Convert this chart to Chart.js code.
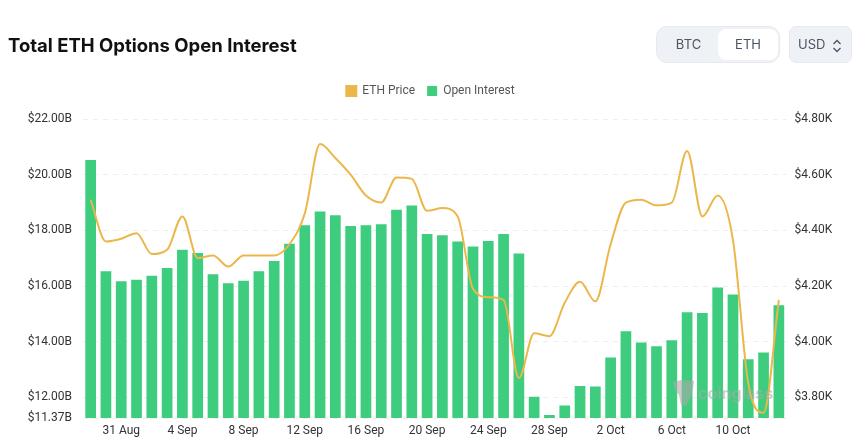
<!DOCTYPE html>
<html>
<head>
<meta charset="utf-8">
<script src="https://cdn.jsdelivr.net/npm/chart.js@4"></script>
<style>
  body { margin: 0; background: #fff; font-family: Inter, sans-serif; }
  #wrap { position: relative; width: 861px; height: 440px; overflow: hidden; }
  canvas { position: absolute; left: 0; top: 0; }
  h1 { position: absolute; left: 8px; top: 33px; margin: 0; font-size: 18.5px; line-height: 24px; font-weight: 700; color: #111; white-space: nowrap; }
  .group { position: absolute; left: 656px; top: 26px; width: 124px; height: 37px; box-sizing: border-box; background: #eef1f5; border: 1px solid #e6e9ee; border-radius: 11px; }
  .btn { position: absolute; top: 2px; height: 31px; line-height: 31px; text-align: center; font-size: 13px; color: #4b5563; border-radius: 8px; }
  .btn.on { background: #fff; }
  .select { position: absolute; left: 789px; top: 26px; width: 63px; height: 37px; box-sizing: border-box; background: #eef1f5; border: 1px solid #e6e9ee; border-radius: 7px; font-size: 13px; line-height: 35px; color: #4b5563; padding-left: 8px; }
  .select svg { position: absolute; left: 41px; top: 11px; }
  .mark { position: absolute; left: 698px; top: 382px; font-size: 16px; line-height: 22px; font-weight: 700; color: rgba(170, 170, 170, 0.55); }
  .logo { position: absolute; left: 672px; top: 379px; }
</style>
</head>
<body>
<div id="wrap">
  <canvas id="oiChart" width="861" height="440"></canvas>
  <h1>Total ETH Options Open Interest</h1>
  <div class="group">
    <div class="btn" style="left:2px;width:59px">BTC</div>
    <div class="btn on" style="left:61px;width:60px">ETH</div>
  </div>
  <div class="select">USD
    <svg width="12" height="16" viewBox="0 0 12 16" fill="none" stroke="#4b5563" stroke-width="1.3"><path d="M2.5 6 L6 2.5 L9.5 6 M2.5 10 L6 13.5 L9.5 10"/></svg>
  </div>
  <svg class="logo" width="24" height="28" viewBox="0 0 24 28"><path d="M1 3 L9 1 L22 2 L21 10 L18 20 L14 27 L9 26 L7 16 L3 11 Z" fill="rgba(170,170,170,0.6)"/></svg>
  <div class="mark">coinglass</div>
</div>
<script>
const dates = [
  "29 Aug", "30 Aug", "31 Aug", "1 Sep", "2 Sep", "3 Sep", "4 Sep", "5 Sep", "6 Sep", "7 Sep",
  "8 Sep", "9 Sep", "10 Sep", "11 Sep", "12 Sep", "13 Sep", "14 Sep", "15 Sep", "16 Sep", "17 Sep",
  "18 Sep", "19 Sep", "20 Sep", "21 Sep", "22 Sep", "23 Sep", "24 Sep", "25 Sep", "26 Sep", "27 Sep",
  "28 Sep", "29 Sep", "30 Sep", "1 Oct", "2 Oct", "3 Oct", "4 Oct", "5 Oct", "6 Oct", "7 Oct",
  "8 Oct", "9 Oct", "10 Oct", "11 Oct", "12 Oct", "13 Oct",
];

// Open interest, $B
const openInterest = [
  20.53, 16.53, 16.17, 16.23, 16.37, 16.65, 17.3, 17.19, 16.42, 16.1,
  16.19, 16.53, 16.9, 17.52, 18.18, 18.68, 18.54, 18.16, 18.18, 18.22,
  18.74, 18.89, 17.87, 17.82, 17.6, 17.42, 17.62, 17.87, 17.17, 12.02,
  11.37, 11.71, 12.41, 12.39, 13.43, 14.38, 13.97, 13.84, 14.05, 15.06,
  15.03, 15.95, 15.7, 13.37, 13.61, 15.31,
];

// ETH price, $K
const ethPrice = [
  4.51, 4.36, 4.37, 4.39, 4.315, 4.33, 4.45, 4.3, 4.31, 4.27,
  4.31, 4.31, 4.31, 4.35, 4.46, 4.71, 4.66, 4.6, 4.525, 4.5,
  4.59, 4.585, 4.47, 4.48, 4.45, 4.19, 4.16, 4.15, 3.87, 4.03,
  4.02, 4.14, 4.215, 4.145, 4.35, 4.5, 4.51, 4.49, 4.5, 4.685,
  4.45, 4.525, 4.365, 3.85, 3.745, 4.15,
];

const oiTicks = [11.26, 12, 14, 16, 18, 20, 22];
const oiTickLabels = ["$11.37B", "$12.00B", "$14.00B", "$16.00B", "$18.00B", "$20.00B", "$22.00B"];
const priceTicks = [3.8, 4.0, 4.2, 4.4, 4.6, 4.8];
const priceTickLabels = ["$3.80K", "$4.00K", "$4.20K", "$4.40K", "$4.60K", "$4.80K"];

const tickFont = { family: "Roboto, sans-serif", size: 12 };

// leaves room under the legend without moving it
const legendGap = {
  id: "legendGap",
  beforeInit(chart) {
    const fit = chart.legend.fit;
    chart.legend.fit = function () {
      fit.call(this);
      this.height += 12;
    };
  },
};

new Chart(document.getElementById("oiChart").getContext("2d"), {
  plugins: [legendGap],
  data: {
    labels: dates,
    datasets: [
      {
        type: "line",
        label: "ETH Price",
        data: ethPrice,
        yAxisID: "price",
        borderColor: "#ecb74a",
        backgroundColor: "#ecb74a",
        borderWidth: 2,
        pointRadius: 0,
        cubicInterpolationMode: "monotone",
        order: 1,
      },
      {
        type: "bar",
        label: "Open Interest",
        data: openInterest,
        yAxisID: "oi",
        backgroundColor: "#3ecd7e",
        categoryPercentage: 1,
        barPercentage: 0.7,
        order: 2,
      },
    ],
  },
  options: {
    responsive: false,
    animation: false,
    layout: { padding: { top: 73 } },
    plugins: {
      tooltip: { enabled: false },
      legend: {
        position: "top",
        labels: {
          boxWidth: 10,
          boxHeight: 10,
          padding: 12,
          color: "#555",
          font: { family: "Roboto, sans-serif", size: 12 },
        },
      },
    },
    scales: {
      x: {
        grid: { display: false, drawTicks: false },
        border: { display: false },
        ticks: {
          autoSkip: false,
          maxRotation: 0,
          color: "#333",
          font: tickFont,
          padding: 6,
          callback: function (value, index) {
            return (index - 2) % 4 === 0 ? dates[index] : "";
          },
        },
        afterFit: (scale) => { scale.height = 22; },
      },
      oi: {
        position: "left",
        min: 11.26,
        max: 22,
        afterBuildTicks: (scale) => { scale.ticks = oiTicks.map((v) => ({ value: v })); },
        afterFit: (scale) => { scale.width = 83; },
        grid: { color: "#eeeeee", drawTicks: false },
        border: { display: false, dash: [5, 5] },
        ticks: {
          autoSkip: false,
          color: "#333",
          font: tickFont,
          padding: 11,
          callback: (value) => oiTickLabels[oiTicks.indexOf(value)],
        },
      },
      price: {
        position: "right",
        min: 3.726,
        max: 4.8,
        afterBuildTicks: (scale) => { scale.ticks = priceTicks.map((v) => ({ value: v })); },
        afterFit: (scale) => { scale.width = 74.5; },
        grid: { display: false, drawTicks: false },
        border: { display: false },
        ticks: {
          autoSkip: false,
          color: "#333",
          font: tickFont,
          padding: 8,
          callback: (value) => priceTickLabels[priceTicks.indexOf(value)],
        },
      },
    },
  },
});
</script>
</body>
</html>
